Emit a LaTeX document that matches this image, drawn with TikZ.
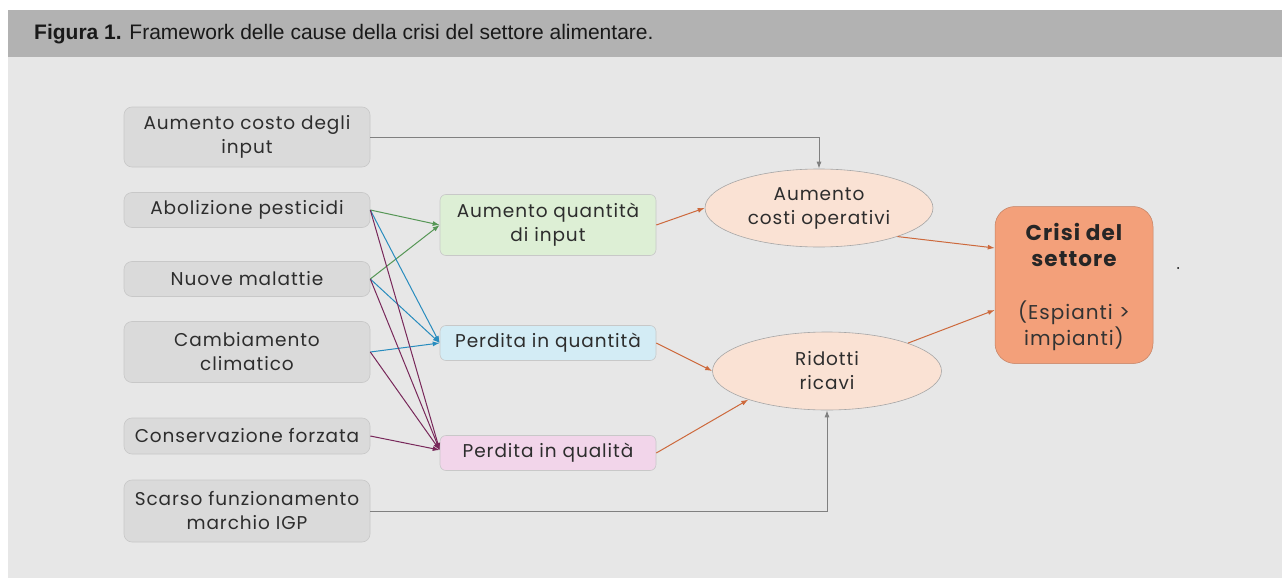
\documentclass[tikz,border=0pt]{standalone}
\usepackage{fontspec}
\setmainfont{Poppins}[LetterSpace=5]
\newfontfamily\titlefont{Liberation Sans}
\usetikzlibrary{arrows.meta,shapes.geometric}
\definecolor{hdr}{RGB}{178,178,178}
\definecolor{bodybg}{RGB}{231,231,231}
\definecolor{boxfill}{RGB}{218,218,218}
\definecolor{boxline}{RGB}{200,200,200}
\definecolor{txt}{RGB}{45,45,45}
\definecolor{gfill}{RGB}{221,239,213}
\definecolor{bfill}{RGB}{211,236,245}
\definecolor{pfill}{RGB}{242,213,234}
\definecolor{efill}{RGB}{250,226,212}
\definecolor{cfill}{RGB}{243,160,122}
\definecolor{cgreen}{RGB}{85,150,85}
\definecolor{cblue}{RGB}{40,140,190}
\definecolor{cpurple}{RGB}{120,40,90}
\definecolor{corange}{RGB}{205,105,60}
\definecolor{cgray}{RGB}{128,128,128}
\tikzset{
  txtfont/.style={font=\fontsize{18.5}{24}\selectfont},
  leftbox/.style={draw=boxline, fill=boxfill, rounded corners=8pt, minimum width=246pt, align=center, txtfont, text=txt, inner sep=0pt, line width=0.6pt},
  midbox/.style={draw=boxline, rounded corners=6pt, minimum width=216pt, align=center, txtfont, text=txt, inner sep=0pt, line width=0.6pt},
  ell/.style={ellipse, draw=cgray!70, fill=efill, minimum width=228pt, minimum height=78pt, inner sep=0pt, align=center, txtfont, text=txt, line width=0.6pt},
  crbox/.style={draw=cfill!80!black, fill=cfill, rounded corners=20pt, minimum width=158pt, minimum height=157pt, inner sep=0pt, line width=0.5pt},
  arr/.style={line width=1pt, -{Latex[length=7pt,width=5pt]}},
}
\begin{document}
\begin{tikzpicture}[x=1pt,y=-1pt]
\useasboundingbox (0,0) rectangle (1282,578);
\fill[white] (0,0) rectangle (1282,578);
\fill[hdr] (8,10) rectangle (1282,57);
\fill[bodybg] (8,57) rectangle (1282,578);
\node[anchor=west, inner sep=0pt, text=black!90, font=\titlefont\fontsize{21}{24}\selectfont] (title) at (34,34) {\textbf{Figura 1.} Framework delle cause della crisi del settore alimentare.};

\node[leftbox, minimum height=60pt] (in1) at (247,137) {Aumento costo degli\\input};
\node[leftbox, minimum height=35pt] (in2) at (247,210) {Abolizione pesticidi};
\node[leftbox, minimum height=35pt] (in3) at (247,279) {Nuove malattie};
\node[leftbox, minimum height=61pt] (in4) at (247,352) {Cambiamento\\climatico};
\node[leftbox, minimum height=36pt] (in5) at (247,436) {Conservazione forzata};
\node[leftbox, minimum height=62pt] (in6) at (247,511) {Scarso funzionamento\\marchio IGP};

\node[midbox, fill=gfill, minimum height=61pt] (mg) at (548,225) {Aumento quantità\\di input};
\node[midbox, fill=bfill, minimum height=35pt] (mb) at (548,343) {Perdita in quantità};
\node[midbox, fill=pfill, minimum height=35pt] (mp) at (548,453) {Perdita in qualità};

\node[ell] (e1) at (819,208) {Aumento\\costi operativi};
\node[ell, minimum width=229pt] (e2) at (827,371) {Ridotti\\ricavi};

\node[crbox] (cr) at (1074,285) {};
\node[inner sep=0pt, align=center, text=black!85, font=\fontsize{21.5}{25.5}\selectfont\bfseries] (crt) at (1074,245) {Crisi del\\settore};
\node[inner sep=0pt, align=center, text=black!80, font=\fontsize{20}{25.5}\selectfont] (crs) at (1074,326) {(Espianti >\\impianti)};
\fill[black] (1178,268) circle (1pt);

% green
\draw[arr, cgreen] (in2.east) -- (mg.west);
\draw[arr, cgreen] (in3.east) -- (mg.west);
% blue
\draw[arr, cblue] (in2.east) -- (mb.west);
\draw[arr, cblue] (in3.east) -- (mb.west);
\draw[arr, cblue] (in4.east) -- (mb.west);
% purple
\coordinate (pin) at ([yshift=3pt]mp.west);
\draw[arr, cpurple] (in2.east) -- (pin);
\draw[arr, cpurple] (in3.east) -- (pin);
\draw[arr, cpurple] (in4.east) -- (pin);
\draw[arr, cpurple] (in5.east) -- (pin);
% orange
\draw[arr, corange] (mg.east) -- (e1.west);
\draw[arr, corange] (mb.east) -- (e2.west);
\draw[arr, corange] (mp.east) -- (e2.200);
\draw[arr, corange] (e1.-20) -- ([yshift=37pt]cr.west);
\draw[arr, corange] (e2.19) -- ([yshift=-25pt]cr.west);
% gray
\draw[arr, cgray] (in1.east) -| (e1.north);
\draw[arr, cgray] (in6.east) -| (e2.south);
\end{tikzpicture}
\end{document}
